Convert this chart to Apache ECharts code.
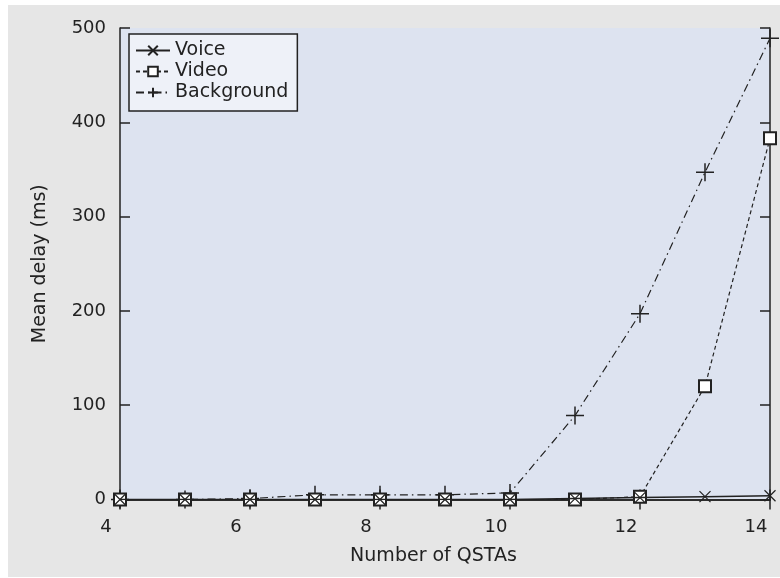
<!DOCTYPE html>
<html><head><meta charset="utf-8">
<script src="https://cdn.jsdelivr.net/npm/echarts@6/dist/echarts.min.js"></script>
<style>html,body{margin:0;padding:0;background:#fff}#c{width:780px;height:578px}</style>
</head><body><div id="c"></div>
<script>
const qstas = [4, 5, 6, 7, 8, 9, 10, 11, 12, 13, 14];
const voice = [0, 0, 0, 0, 0, 0, 0, 1, 2, 3, 4];
const video = [0, 0, 0, 0, 0, 0, 0, 0, 3, 120, 383];
const background = [0, 0, 1, 5, 5, 5, 7, 89, 197, 347, 489];
const xTicks = [4, 6, 8, 10, 12, 14];
const yTicks = [0, 100, 200, 300, 400, 500];

const pairs = arr => qstas.map((x, i) => [x, arr[i]]);
const FONT = '"DejaVu Sans", "Noto Sans", sans-serif';
const INK = '#222';
const crossPath = 'path://M0,0L10,10M10,0L0,10';
const plusPath = 'path://M5,0L5,10M0,5L10,5';

const chart = echarts.init(document.getElementById('c'), null, {renderer: 'canvas'});
const axisCommon = {
  type: 'value',
  axisLine: {show: true, lineStyle: {color: INK, width: 1.5}},
  axisTick: {show: true, inside: true, length: 10, lineStyle: {color: INK, width: 1.5}},
  splitLine: {show: false}
};
chart.setOption({
  animation: false,
  textStyle: {fontFamily: FONT},
  graphic: [{type: 'rect', z: -10, silent: true, shape: {x: 8, y: 5, width: 772, height: 572}, style: {fill: '#e6e6e6'}}],
  grid: {left: 120, right: 10, top: 28, bottom: 78.5, show: true, backgroundColor: '#dde3f0', borderWidth: 0},
  legend: {
    left: 129, top: 34, orient: 'vertical',
    backgroundColor: '#eef1f8', borderColor: INK, borderWidth: 1.5, borderRadius: 0,
    padding: [6, 9, 8, 6], itemGap: 0, itemWidth: 34, itemHeight: 12,
    textStyle: {fontFamily: FONT, fontSize: 19, color: INK, lineHeight: 21},
    data: ['Voice', 'Video', 'Background']
  },
  xAxis: [
    Object.assign({}, axisCommon, {
      position: 'bottom', min: 4, max: 14, interval: 2,
      name: 'Number of QSTAs', nameLocation: 'middle', nameGap: 47,
      nameTextStyle: {fontFamily: FONT, fontSize: 19, color: INK, padding: [0, 23, 0, 0]},
      axisLabel: {fontFamily: FONT, fontSize: 18, color: INK, margin: 19, padding: [0, 28, 0, 0],
        customValues: xTicks}
    }),
    Object.assign({}, axisCommon, {
      position: 'top', min: 4, max: 14, interval: 2, axisLabel: {show: false}
    })
  ],
  yAxis: [
    Object.assign({}, axisCommon, {
      position: 'left', min: 0, max: 500, interval: 100,
      name: 'Mean delay (ms)', nameLocation: 'middle', nameGap: 70, nameRotate: 90,
      nameTextStyle: {fontFamily: FONT, fontSize: 19, color: INK},
      axisLabel: {fontFamily: FONT, fontSize: 18, color: INK, margin: 14}
    }),
    Object.assign({}, axisCommon, {
      position: 'right', min: 0, max: 500, interval: 100, axisLabel: {show: false}
    })
  ],
  series: [
    {
      name: 'Background', type: 'line', data: pairs(background), z: 3,
      symbol: plusPath, symbolSize: 18,
      lineStyle: {color: INK, width: 1.2, type: [8, 4, 1.5, 4]},
      itemStyle: {color: INK, borderColor: INK, borderWidth: 1.5}
    },
    {
      name: 'Video', type: 'line', data: pairs(video), z: 4,
      symbol: 'rect', symbolSize: 12,
      lineStyle: {color: INK, width: 1.2, type: [4, 3]},
      itemStyle: {color: '#ffffff', borderColor: INK, borderWidth: 2}
    },
    {
      name: 'Voice', type: 'line', data: pairs(voice), z: 5,
      symbol: crossPath, symbolSize: 11,
      lineStyle: {color: INK, width: 1.5, type: 'solid'},
      itemStyle: {color: INK, borderColor: INK, borderWidth: 1.2}
    }
  ]
});
</script></body></html>
